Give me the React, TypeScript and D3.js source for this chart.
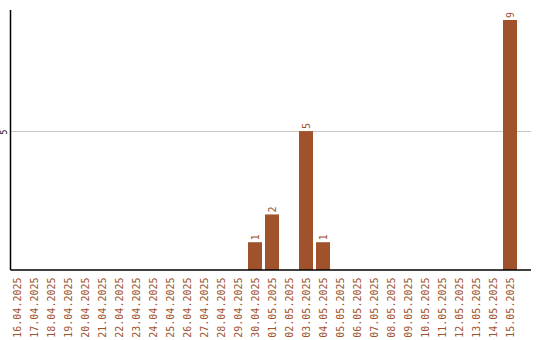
import React from "react";
import * as d3 from "d3";

const dates = [
  "16.04.2025", "17.04.2025", "18.04.2025", "19.04.2025", "20.04.2025",
  "21.04.2025", "22.04.2025", "23.04.2025", "24.04.2025", "25.04.2025",
  "26.04.2025", "27.04.2025", "28.04.2025", "29.04.2025", "30.04.2025",
  "01.05.2025", "02.05.2025", "03.05.2025", "04.05.2025", "05.05.2025",
  "06.05.2025", "07.05.2025", "08.05.2025", "09.05.2025", "10.05.2025",
  "11.05.2025", "12.05.2025", "13.05.2025", "14.05.2025", "15.05.2025",
];
const counts = [
  0, 0, 0, 0, 0, 0, 0, 0, 0, 0,
  0, 0, 0, 0, 1, 2, 0, 5, 1, 0,
  0, 0, 0, 0, 0, 0, 0, 0, 0, 9,
];
const yTicks = [5];

const W = 540;
const H = 340;
const plotLeft = 10.5;
const plotRight = 531;
const plotTop = 10;
const plotBottom = 270;
const barColor = "#A0522D";
const font = "'DejaVu Sans Mono', monospace";

export default function App() {
  const x = d3
    .scaleBand<string>()
    .domain(dates)
    .range([8.5, 518.5])
    .paddingInner(0.176)
    .paddingOuter(0.088);
  const y = d3.scaleLinear().domain([0, 9.36]).range([plotBottom, plotTop]);

  const data = dates.map((d, i) => ({ date: d, value: counts[i] }));

  return (
    <svg
      width={W}
      height={H}
      style={{ position: "absolute", left: 0, top: 0, background: "#fff" }}
    >
      {yTicks.map((t) => (
        <g key={t}>
          <line
            x1={plotLeft}
            x2={plotRight}
            y1={Math.round(y(t)) + 0.5}
            y2={Math.round(y(t)) + 0.5}
            stroke="#c8c8c8"
            strokeWidth={1}
          />
          <text
            transform={`translate(${7},${y(t) + 1}) rotate(-90)`}
            textAnchor="middle"
            fontFamily={font}
            fontSize={8}
            fill="#000"
          >
            {t}
          </text>
        </g>
      ))}

      {data
        .filter((d) => d.value > 0)
        .map((d) => {
          const bx = x(d.date)!;
          const cx = bx + x.bandwidth() / 2;
          return (
            <g key={d.date}>
              <rect
                x={bx}
                y={y(d.value)}
                width={x.bandwidth()}
                height={plotBottom - y(d.value)}
                fill={barColor}
              />
              <text
                transform={`translate(${cx + 3.5},${y(d.value) - 2}) rotate(-90)`}
                textAnchor="start"
                fontFamily={font}
                fontSize={10}
                fill={barColor}
              >
                {d.value}
              </text>
            </g>
          );
        })}

      <line x1={plotLeft} x2={plotLeft} y1={plotTop} y2={plotBottom} stroke="#000" strokeWidth={1.5} />
      <line x1={plotLeft} x2={plotRight} y1={plotBottom} y2={plotBottom} stroke="#000" strokeWidth={1.5} />

      {dates.map((d) => {
        const cx = x(d)! + x.bandwidth() / 2;
        return (
          <text
            key={d}
            transform={`translate(${cx + 3.5},${277.5}) rotate(-90)`}
            textAnchor="end"
            fontFamily={font}
            fontSize={10}
            fill={barColor}
          >
            {d}
          </text>
        );
      })}
    </svg>
  );
}
